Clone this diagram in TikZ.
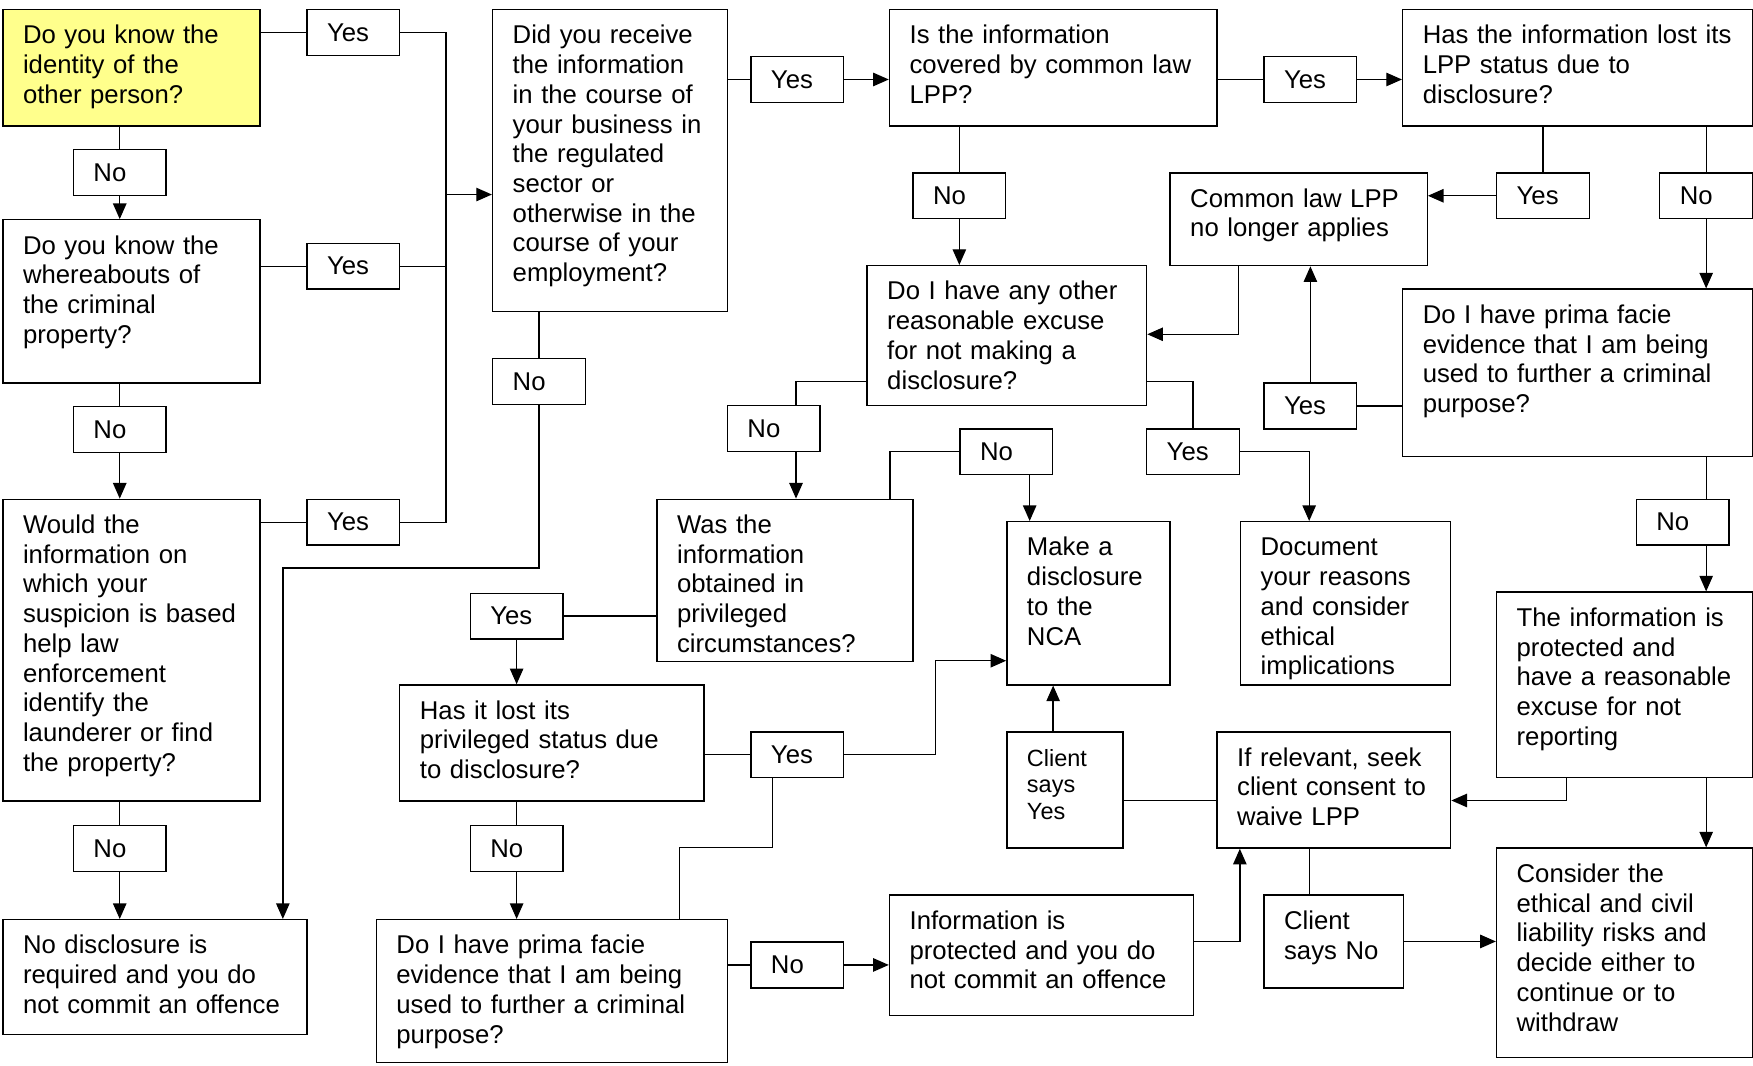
\documentclass[tikz,border=0pt]{standalone}
\usepackage{fontspec}
\setmainfont{Liberation Sans}
\usetikzlibrary{arrows.meta}
\definecolor{qyellow}{RGB}{255,255,140}
\newcommand{\qfont}{\fontsize{11.5}{13.3}\selectfont}
\newcommand{\sfont}{\fontsize{10.5}{12}\selectfont}

\begin{document}
\begin{tikzpicture}[x=0.5pt, y=-0.5pt,
                qbox/.style = {
                    rectangle, draw=black,
                    line width=0.6pt, anchor=north west,
                    inner xsep=9pt, inner ysep=6pt,
                    text height=9.3pt, align=left,
                    font=\qfont
                },
                lbl/.style = {
                    rectangle, draw=black,
                    line width=0.6pt, anchor=north west,
                    inner xsep=9pt, inner ysep=0pt,
                    text width=23.5pt, minimum height=20.5pt,
                    align=left, font=\qfont
                },
                link/.style = {
                    draw, line width=0.6pt
                },
                arrow/.style = {
                    draw, line width=0.6pt,
                    -{Triangle[length=7pt, width=6pt]}
                }
                ]
                \useasboundingbox (0,0) rectangle (1568,953);

                % question and outcome boxes
                \node[qbox, fill=qyellow, text width=97pt, text depth=30.7pt] (know) at (2,8) {Do you know the\\identity of the\\other person?};
                \node[qbox, text width=97pt, text depth=51.7pt] (where) at (2,196) {Do you know the\\whereabouts of\\the criminal\\property?};
                \node[qbox, text width=97pt, text depth=113.7pt] (help) at (2,446) {Would the\\information on\\which your\\suspicion is based\\help law\\enforcement\\identify the\\launderer or find\\the property?};
                \node[qbox, text width=118pt, text depth=30.2pt] (nodisc) at (2,822) {No disclosure is\\required and you do\\not commit an offence};
                \node[qbox, text width=87pt, text depth=113.7pt] (received) at (440,8) {Did you receive\\the information\\in the course of\\your business in\\the regulated\\sector or\\otherwise in the\\course of your\\employment?};
                \node[qbox, text width=128.5pt, text depth=30.7pt] (covered) at (795,8) {Is the information\\covered by common law\\LPP?};
                \node[qbox, text width=138.5pt, text depth=30.7pt] (lost) at (1254,8) {Has the information lost its\\LPP status due to\\disclosure?};
                \node[qbox, text width=97pt, text depth=20.2pt] (nolpp) at (1046,154) {Common law LPP\\no longer applies};
                \node[qbox, text width=107pt, text depth=41.2pt] (excuse) at (775,237) {Do I have any other\\reasonable excuse\\for not making a\\disclosure?};
                \node[qbox, text width=138.5pt, text depth=53.7pt] (primar) at (1254,258) {Do I have prima facie\\evidence that I am being\\used to further a criminal\\purpose?};
                \node[qbox, text width=96.5pt, text depth=61.7pt] (protected) at (1338,529) {The information is\\protected and\\have a reasonable\\excuse for not\\reporting};
                \node[qbox, text width=96.5pt, text depth=72.2pt] (risks) at (1338,758) {Consider the\\ethical and civil\\liability risks and\\decide either to\\continue or to\\withdraw};
                \node[qbox, text width=86.5pt, text depth=30.7pt] (waive) at (1088,654) {If relevant, seek\\client consent to\\waive LPP};
                \node[qbox, text width=44.5pt, text depth=20.2pt] (saysno) at (1130,800) {Client\\says No};
                \node[qbox, font=\sfont, text width=34pt, text depth=30.7pt] (saysyes) at (900,654) {Client\\says\\Yes};
                \node[qbox, text width=55pt, text depth=51.7pt] (nca) at (900,466) {Make a\\disclosure\\to the\\NCA};
                \node[qbox, text width=76pt, text depth=51.7pt] (document) at (1109,466) {Document\\your reasons\\and consider\\ethical\\implications};
                \node[qbox, text width=96.5pt, text depth=51.2pt] (privileged) at (587,446) {Was the\\information\\obtained in\\privileged\\circumstances?};
                \node[qbox, text width=118pt, text depth=30.7pt] (lostpriv) at (357,612) {Has it lost its\\privileged status due\\to disclosure?};
                \node[qbox, text width=139pt, text depth=42.7pt] (primal) at (336,822) {Do I have prima facie\\evidence that I am being\\used to further a criminal\\purpose?};
                \node[qbox, text width=118pt, text depth=32.7pt] (noffence) at (795,800) {Information is\\protected and you do\\not commit an offence};

                % yes / no labels
                \node[lbl] (knowyes) at (274,8) {Yes};
                \node[lbl] (whereyes) at (274,217) {Yes};
                \node[lbl] (helpyes) at (274,446) {Yes};
                \node[lbl] (knowno) at (65,133) {No};
                \node[lbl] (whereno) at (65,363) {No};
                \node[lbl] (helpno) at (65,738) {No};
                \node[lbl] (recno) at (440,320) {No};
                \node[lbl] (recyes) at (671,50) {Yes};
                \node[lbl] (covyes) at (1130,50) {Yes};
                \node[lbl] (covno) at (816,154) {No};
                \node[lbl] (lostyes) at (1338,154) {Yes};
                \node[lbl] (lostno) at (1484,154) {No};
                \node[lbl] (primaryes) at (1130,342) {Yes};
                \node[lbl] (primarno) at (1463,446) {No};
                \node[lbl] (excyes) at (1025,383) {Yes};
                \node[lbl] (excno) at (650,362) {No};
                \node[lbl] (privno) at (858,383) {No};
                \node[lbl] (privyes) at (420,530) {Yes};
                \node[lbl] (lpyes) at (671,654) {Yes};
                \node[lbl] (lpno) at (420,738) {No};
                \node[lbl] (primalno) at (671,842) {No};

                % bends
                \coordinate (bus) at (399,174);
                \coordinate (recbend) at (253,508);
                \coordinate (lppbend) at (1108,299);
                \coordinate (protbend) at (1401,716);
                \coordinate (waivex) at (1171,780);
                \coordinate (clientbend) at (942,716);
                \coordinate (offbend) at (1109,842);
                \coordinate (excr) at (1067,341);
                \coordinate (excl) at (712,341);
                \coordinate (docin) at (1171,466);
                \coordinate (privtop) at (796,404);
                \coordinate (ncain) at (921,466);
                \coordinate (ncaleft) at (837,591);
                \coordinate (q13up) at (608,758);
                \coordinate (lpyesin) at (691,758);

                % left column
                \path[link] (knowyes.west -| know.east)--(knowyes.west);
                \path[link] (whereyes.west -| where.east)--(whereyes.west);
                \path[link] (helpyes.west -| help.east)--(helpyes.west);
                \path[link] (knowyes.east) -| (bus);
                \path[link] (whereyes.east) -| (bus);
                \path[link] (helpyes.east) -| (bus);
                \path[arrow] (bus)--(bus -| received.west);
                \path[link] (know.south -| knowno)--(knowno.north);
                \path[arrow] (knowno.south)--(knowno.south |- where.north);
                \path[link] (where.south -| whereno)--(whereno.north);
                \path[arrow] (whereno.south)--(whereno.south |- help.north);
                \path[link] (help.south -| helpno)--(helpno.north);
                \path[arrow] (helpno.south)--(helpno.south |- nodisc.north);
                \path[link] (received.south -| recno)--(recno.north);
                \path[arrow] (recno.south) |- (recbend) -- (recbend |- nodisc.north);

                % top row
                \path[link] (recyes.west -| received.east)--(recyes.west);
                \path[arrow] (recyes.east)--(recyes.east -| covered.west);
                \path[link] (covyes.west -| covered.east)--(covyes.west);
                \path[arrow] (covyes.east)--(covyes.east -| lost.west);
                \path[link] (covered.south -| covno)--(covno.north);
                \path[arrow] (covno.south)--(covno.south |- excuse.north);
                \path[link] (lost.south -| lostyes)--(lostyes.north);
                \path[arrow] (lostyes.west)--(lostyes.west -| nolpp.east);
                \path[link] (lost.south -| lostno)--(lostno.north);
                \path[arrow] (lostno.south)--(lostno.south |- primar.north);
                \path[arrow] (nolpp.south -| lppbend)--(lppbend)--(lppbend -| excuse.east);
                \path[link] (primaryes.east)--(primaryes.east -| primar.west);
                \path[arrow] (primaryes.north)--(primaryes.north |- nolpp.south);

                % right column
                \path[link] (primar.south -| lostno)--(primarno.north -| lostno);
                \path[arrow] (primarno.south -| lostno)--(protected.north -| lostno);
                \path[arrow] (protected.south -| lostno)--(risks.north -| lostno);
                \path[arrow] (protected.south -| protbend)--(protbend)--(protbend -| waive.east);
                \path[link] (waive.south -| waivex)--(saysno.north -| waivex);
                \path[arrow] (saysno.east)--(saysno.east -| risks.west);
                \path[link] (saysyes.east |- clientbend)--(waive.west |- clientbend);
                \path[arrow] (saysyes.north -| clientbend)--(nca.south -| clientbend);
                \path[arrow] (noffence.east |- offbend)--(offbend)--(offbend |- waive.south);

                % middle
                \path[link] (excuse.east |- excr)--(excr)--(excr |- excyes.north);
                \path[arrow] (excyes.east) -| (docin);
                \path[link] (excuse.west |- excl)--(excl)--(excl |- excno.north);
                \path[arrow] (excl |- excno.south)--(excl |- privileged.north);
                \path[link] (privtop |- privileged.north)--(privtop)--(privtop -| privno.west);
                \path[arrow] (ncain |- privno.south)--(ncain);
                \path[link] (privyes.east)--(privyes.east -| privileged.west);
                \path[arrow] (privyes.south)--(privyes.south |- lostpriv.north);
                \path[link] (lpyes.west -| lostpriv.east)--(lpyes.west);
                \path[arrow] (lpyes.east) -| (ncaleft) -- (ncaleft -| nca.west);
                \path[link] (q13up |- primal.north)--(q13up)--(lpyesin)--(lpyesin |- lpyes.south);
                \path[link] (lostpriv.south -| lpno)--(lpno.north);
                \path[arrow] (lpno.south)--(lpno.south |- primal.north);
                \path[link] (primalno.west -| primal.east)--(primalno.west);
                \path[arrow] (primalno.east)--(primalno.east -| noffence.west);
\end{tikzpicture}
\end{document}
